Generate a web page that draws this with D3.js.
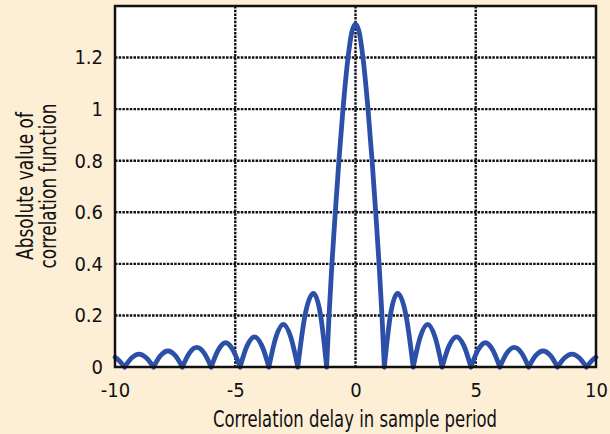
<!DOCTYPE html>
<html>
<head>
<meta charset="utf-8">
<script src="https://cdn.jsdelivr.net/npm/d3@7"></script>
<style>
  body { margin: 0; background: #fdefd6; }
  text { font-family: "DejaVu Sans Condensed", "Liberation Sans Narrow", sans-serif; fill: #111; }
</style>
</head>
<body>
<script>
//Data
    const delay = [
        -10, -9.8, -9.6,
        -9.3, -9.0, -8.7, -8.4,
        -8.1, -7.8, -7.5, -7.2,
        -6.9, -6.6, -6.3, -6.0,
        -5.7, -5.4, -5.1, -4.8,
        -4.5, -4.2, -3.9, -3.6,
        -3.3, -3.0, -2.7, -2.4,
        -2.1, -1.75, -1.45, -1.2,
        -1.1, -0.98, -0.84, -0.69, -0.52, -0.31, -0.15, 0, 0.15, 0.31, 0.52, 0.69, 0.84, 0.98, 1.1, 1.2,
        1.45, 1.75, 2.1, 2.4,
        2.7, 3.0, 3.3, 3.6,
        3.9, 4.2, 4.5, 4.8,
        5.1, 5.4, 5.7, 6.0,
        6.3, 6.6, 6.9, 7.2,
        7.5, 7.8, 8.1, 8.4,
        8.7, 9.0, 9.3, 9.6,
        9.8, 10
    ];
    const corr = [
        0.038, 0.022, 0,
        0.036, 0.05, 0.036, 0,
        0.045, 0.062, 0.045, 0,
        0.055, 0.076, 0.055, 0,
        0.067, 0.094, 0.067, 0,
        0.084, 0.117, 0.084, 0,
        0.118, 0.165, 0.118, 0,
        0.2, 0.285, 0.2, 0,
        0.2, 0.4, 0.6, 0.8, 1.0, 1.2, 1.3, 1.33, 1.3, 1.2, 1.0, 0.8, 0.6, 0.4, 0.2, 0,
        0.2, 0.285, 0.2, 0,
        0.118, 0.165, 0.118, 0,
        0.084, 0.117, 0.084, 0,
        0.067, 0.094, 0.067, 0,
        0.055, 0.076, 0.055, 0,
        0.045, 0.062, 0.045, 0,
        0.036, 0.05, 0.036, 0,
        0.022, 0.038
    ];
    const xTicks = [-10, -5, 0, 5, 10];
    const yTicks = [0, 0.2, 0.4, 0.6, 0.8, 1, 1.2];

//Set up dimensions
    const width = 610;
    const height = 434;
    const plotLeft = 115, plotRight = 596, plotTop = 6, plotBottom = 367;

//Scales
    const xScale = d3.scaleLinear().domain([-10, 10]).range([plotLeft, plotRight]);
    const yScale = d3.scaleLinear().domain([0, 1.4]).range([plotBottom, plotTop]);

    const svg = d3.select("body")
                .append("svg")
                .attr("width", width)
                .attr("height", height);

//Plot area
    svg.append("rect")
        .attr("x", plotLeft).attr("y", plotTop)
        .attr("width", plotRight - plotLeft).attr("height", plotBottom - plotTop)
        .attr("fill", "white");

//Grid lines (dotted)
    svg.append("g")
        .selectAll("line")
        .data(xTicks.slice(1, -1))
        .enter().append("line")
        .attr("x1", d => xScale(d)).attr("x2", d => xScale(d))
        .attr("y1", plotTop).attr("y2", plotBottom)
        .attr("stroke", "#111").attr("stroke-width", 2.4)
        .attr("stroke-dasharray", "2.5,1.2");

    svg.append("g")
        .selectAll("line")
        .data(yTicks.slice(1))
        .enter().append("line")
        .attr("x1", plotLeft).attr("x2", plotRight)
        .attr("y1", d => yScale(d)).attr("y2", d => yScale(d))
        .attr("stroke", "#111").attr("stroke-width", 2.4)
        .attr("stroke-dasharray", "2.5,1.2");

//Curve, drawn lobe by lobe so the zeros stay sharp
    const pts = delay.map((d, i) => ({x: d, y: corr[i]}));
    const lobes = [];
    let cur = [];
    pts.forEach(p => {
        cur.push(p);
        if (p.y === 0) { lobes.push(cur); cur = [p]; }
    });
    lobes.push(cur);

    const line = d3.line()
        .x(d => xScale(d.x))
        .y(d => yScale(d.y))
        .curve(d3.curveMonotoneX);

    svg.append("g")
        .selectAll("path")
        .data(lobes)
        .enter().append("path")
        .attr("d", line)
        .attr("fill", "none")
        .attr("stroke", "#2c4fa8")
        .attr("stroke-width", 4.8)
        .attr("stroke-linecap", "round")
        .attr("stroke-linejoin", "round");

//Axes
    const bottomAxis = d3.axisBottom(xScale)
        .tickValues(xTicks)
        .tickSize(0).tickPadding(16)
        .tickFormat(d => d);
    const leftAxis = d3.axisLeft(yScale)
        .tickValues(yTicks)
        .tickSize(0).tickPadding(12)
        .tickFormat(d3.format("~g"));

    const gx = svg.append("g")
        .attr("transform", "translate(0," + plotBottom + ")")
        .call(bottomAxis);
    const gy = svg.append("g")
        .attr("transform", "translate(" + plotLeft + ",0)")
        .call(leftAxis);
    [gx, gy].forEach(g => {
        g.select(".domain").remove();
        g.selectAll("text").attr("font-size", 20).attr("fill", "#111")
            .style("font-family", "'DejaVu Sans Condensed', 'Liberation Sans Narrow', sans-serif");
    });
    gx.selectAll("text").attr("dy", 0).attr("y", 30);

//Frame
    svg.append("rect")
        .attr("x", plotLeft).attr("y", plotTop)
        .attr("width", plotRight - plotLeft).attr("height", plotBottom - plotTop)
        .attr("fill", "none")
        .attr("stroke", "#111").attr("stroke-width", 2.5);

//Axis titles
    svg.append("text")
        .attr("x", 355).attr("y", 427)
        .attr("text-anchor", "middle")
        .attr("font-size", 23)
        .attr("textLength", 284)
        .attr("lengthAdjust", "spacingAndGlyphs")
        .text("Correlation delay in sample period");

    const yTitle = svg.append("g")
        .attr("transform", "translate(0,186) rotate(-90)");
    yTitle.append("text")
        .attr("x", 0).attr("y", 33)
        .attr("text-anchor", "middle")
        .attr("font-size", 23)
        .attr("textLength", 148)
        .attr("lengthAdjust", "spacingAndGlyphs")
        .text("Absolute value of");
    yTitle.append("text")
        .attr("x", 0).attr("y", 56)
        .attr("text-anchor", "middle")
        .attr("font-size", 23)
        .attr("textLength", 165)
        .attr("lengthAdjust", "spacingAndGlyphs")
        .text("correlation function");
</script>
</body>
</html>
